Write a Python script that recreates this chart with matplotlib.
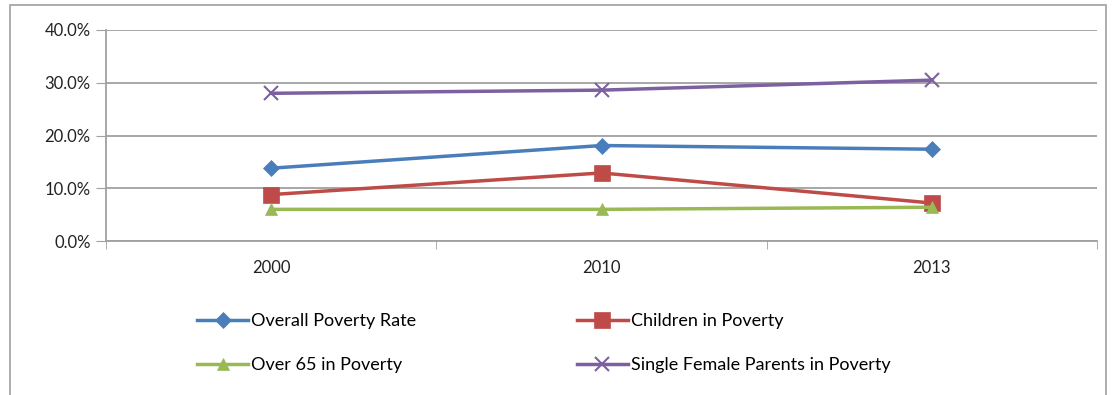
import matplotlib.pyplot as plt
from matplotlib.patches import Rectangle

years = ['2000', '2010', '2013']
overall = [13.8, 18.1, 17.4]
children = [8.8, 12.9, 7.2]
over65 = [6.0, 6.0, 6.4]
single_female = [28.0, 28.6, 30.5]

series_names = ['Overall Poverty Rate', 'Children in Poverty',
                'Over 65 in Poverty', 'Single Female Parents in Poverty']
colours = ['#4A7EBB', '#BE4B48', '#98B954', '#7D60A0']
markers = ['D', 's', '^', 'x']
msizes = [8, 11, 9, 10]

plt.rcParams['font.family'] = ['Lato', 'DejaVu Sans']

fig = plt.figure(figsize=(11.17, 3.95), dpi=100)
ax = fig.add_axes([106 / 1117, 1 - 241 / 395, (1097 - 106) / 1117, (241 - 30) / 395])

# outer chart border
fig.patches.append(Rectangle((10 / 1117, -0.05), (1106 - 10) / 1117, 1 - 5 / 395 + 0.05,
                             transform=fig.transFigure, fill=False,
                             edgecolor='#A0A0A0', linewidth=1.2))

x = range(len(years))
lines = []
for vals, name, c, m, ms in zip([overall, children, over65, single_female],
                                series_names, colours, markers, msizes):
    ln, = ax.plot(x, vals, color=c, linewidth=2.5, marker=m, markersize=ms,
                  markeredgewidth=1.5 if m == 'x' else 0.5, label=name)
    lines.append(ln)

ax.set_xlim(-0.5, 2.5)
ax.set_ylim(0, 40)
ax.set_yticks([0, 10, 20, 30, 40])
ax.set_yticklabels([f'{v:.1f}%' for v in [0, 10, 20, 30, 40]], fontsize=12, color='#222222')
ax.set_xticks(list(x))
ax.set_xticklabels(years, fontsize=12, color='#222222')
ax.set_xticks([-0.5, 0.5, 1.5, 2.5], minor=True)
ax.tick_params(axis='x', which='major', length=0, pad=14)
ax.tick_params(axis='x', which='minor', length=6, color='#A0A0A0', direction='out')
ax.tick_params(axis='y', length=7, color='#A0A0A0', pad=4)

ax.grid(axis='y', color='#A0A0A0', linewidth=1.3)
ax.set_axisbelow(True)
for s in ['top', 'right']:
    ax.spines[s].set_visible(False)
for s in ['left', 'bottom']:
    ax.spines[s].set_color('#A0A0A0')
    ax.spines[s].set_linewidth(1.3)

# legend rows: Overall / Children, then Over 65 / Single (matplotlib fills by column)
order = [0, 2, 1, 3]
fig.legend([lines[i] for i in order], [series_names[i] for i in order],
           loc='upper left', bbox_to_anchor=(190 / 1117, 1 - 306 / 395), ncol=2,
           frameon=False, fontsize=13, handlelength=2.8, handletextpad=0.2,
           columnspacing=8.9, labelspacing=1.55, borderaxespad=0)

fig.savefig('out.png', dpi=100)
